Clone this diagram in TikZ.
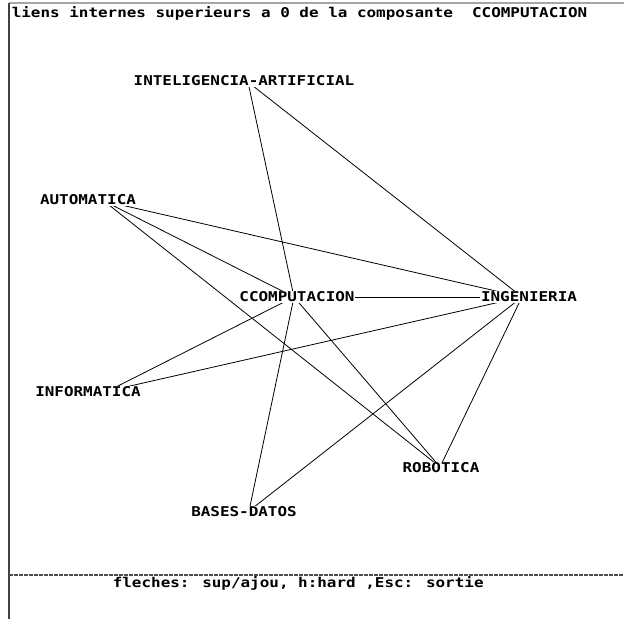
\documentclass[tikz,border=0pt]{standalone}
\usepackage{fontspec}
\newfontfamily\screenfont{DejaVu Sans Mono Bold}
\begin{document}
\begin{tikzpicture}[x=1pt,y=-1pt,
  scr/.style={font=\screenfont\fontsize{13.5}{14}\selectfont, inner sep=0.6pt},
  lbl/.style={scr, fill=white},
  lien/.style={black, line width=0.8pt},
  frame/.style={line width=1.2pt}]
\useasboundingbox (0,0) rectangle (624,619);
% screen frame
\draw[frame, gray!70] (9,3) -- (624,3);
\draw[frame, black!75] (9,3) -- (9,619);
\draw[frame, black!70, dash pattern=on 4pt off 1pt] (9,575) -- (624,575);
% header and footer lines of text
\node[scr, anchor=west] (titre) at (11,13) {\scalebox{1.18}[1]{liens internes superieurs a 0 de la composante\ \ CCOMPUTACION}};
\node[scr, anchor=west] (aide) at (112,583) {\scalebox{1.18}[1]{fleches: sup/ajou, h:hard ,Esc: sortie}};
% attachment points of the components
\coordinate (ia) at (248,82);
\coordinate (aut) at (104,201);
\coordinate (cc) at (294,297);
\coordinate (ing) at (522,297);
\coordinate (inf) at (108,391);
\coordinate (rob) at (440,467);
\coordinate (bd) at (249,511);
% internal links
\draw[lien] (ia) -- (cc);
\draw[lien] (ia) -- (ing);
\draw[lien] (aut) -- (ing);
\draw[lien] (aut) -- (cc);
\draw[lien] (aut) -- (rob);
\draw[lien] (cc) -- (inf);
\draw[lien] (cc) -- (ing);
\draw[lien] (cc) -- (bd);
\draw[lien] (cc) -- (rob);
\draw[lien] (ing) -- (inf);
\draw[lien] (ing) -- (bd);
\draw[lien] (ing) -- (rob);
% component names
\node[lbl] (ia-l) at (244,81) {\scalebox{1.18}[1]{INTELIGENCIA-ARTIFICIAL}};
\node[lbl] (aut-l) at (88,200) {\scalebox{1.18}[1]{AUTOMATICA}};
\node[lbl] (cc-l) at (297,297) {\scalebox{1.18}[1]{CCOMPUTACION}};
\node[lbl] (ing-l) at (529,297) {\scalebox{1.18}[1]{INGENIERIA}};
\node[lbl] (inf-l) at (88,392) {\scalebox{1.18}[1]{INFORMATICA}};
\node[lbl] (rob-l) at (441,468) {\scalebox{1.18}[1]{ROBOTICA}};
\node[lbl] (bd-l) at (244,512) {\scalebox{1.18}[1]{BASES-DATOS}};
\end{tikzpicture}
\end{document}
